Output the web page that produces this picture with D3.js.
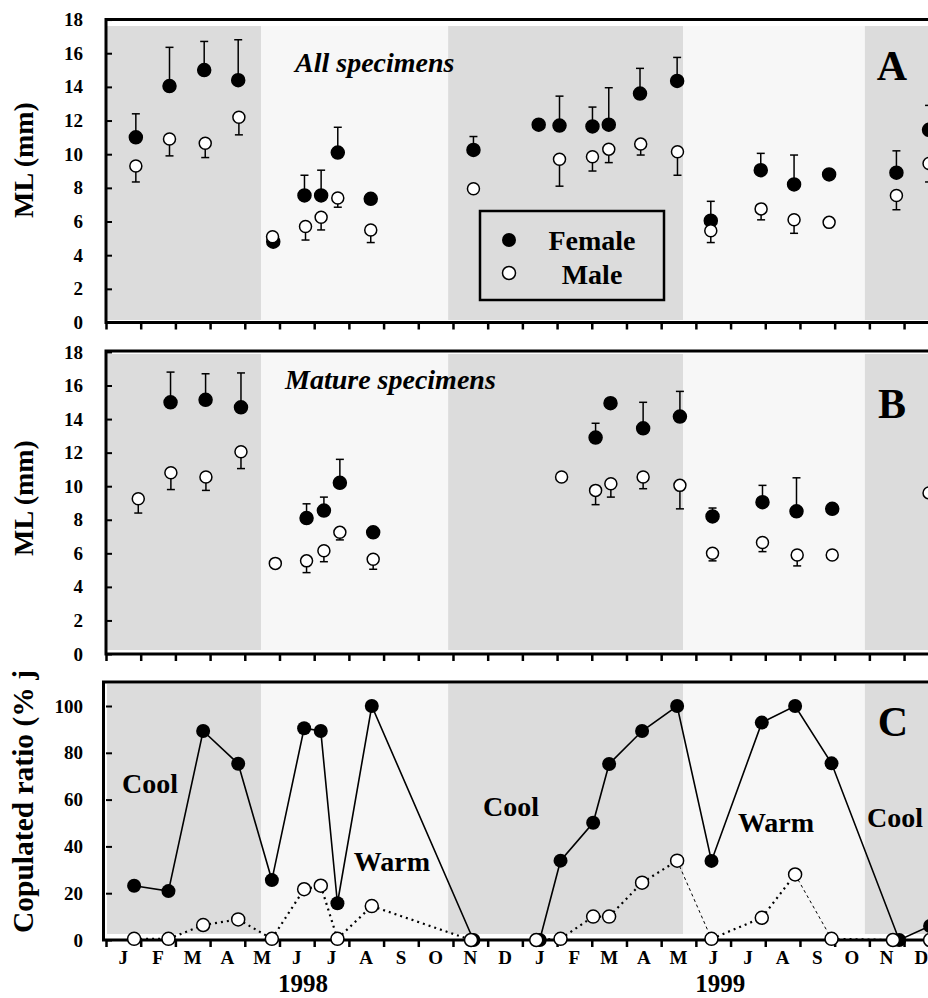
<!DOCTYPE html>
<html>
<head>
<title>ML and copulated ratio</title>
<script src="https://d3js.org/d3.v7.min.js"></script>
<style>
body { margin: 0; background: #fff; }
text { font-family: "Liberation Serif", "Times New Roman", Times, serif; font-weight: bold; fill: #000; }
</style>
</head>
<body>
<svg class="chart"></svg>
<script>
// months counted from Jan 1998 (0 = start of Jan 1998)
var monthLabels = ["J","F","M","A","M","J","J","A","S","O","N","D",
                   "J","F","M","A","M","J","J","A","S","O","N","D"];
var yearLabels = [["1998", 5.68], ["1999", 17.7]];
var seasons = [[0, 4.47, "cool"], [4.47, 9.86, "warm"], [9.86, 16.63, "cool"],
               [16.63, 21.87, "warm"], [21.87, 24, "cool"]];

// [month, mean ML, end of error bar]
var allFemale = [
    [0.86, 11.0, 12.4], [1.83, 14.05, 16.35], [2.83, 15.0, 16.7], [3.81, 14.4, 16.8],
    [4.82, 4.8, null], [5.72, 7.55, 8.75], [6.2, 7.55, 9.05], [6.68, 10.1, 11.6],
    [7.63, 7.35, null], [10.59, 10.25, 11.05], [12.47, 11.75, null], [13.07, 11.7, 13.45],
    [14.02, 11.65, 12.8], [14.49, 11.75, 13.95], [15.39, 13.6, 15.1], [16.46, 14.35, 15.75],
    [17.43, 6.05, 7.2], [18.87, 9.05, 10.05], [19.83, 8.2, 9.95], [20.84, 8.8, null],
    [22.78, 8.9, 10.2], [23.72, 11.45, 12.9]
];
var allMale = [
    [0.86, 9.3, 8.35], [1.83, 10.9, 9.9], [2.86, 10.65, 9.8], [3.83, 12.2, 11.15],
    [4.8, 5.1, null], [5.75, 5.7, 4.9], [6.2, 6.25, 5.5], [6.68, 7.4, 6.85],
    [7.63, 5.5, 4.75], [10.59, 7.95, null], [13.07, 9.7, 8.1], [14.02, 9.85, 9.0],
    [14.49, 10.3, 9.5], [15.41, 10.6, 9.95], [16.47, 10.15, 8.75], [17.43, 5.45, 4.75],
    [18.88, 6.75, 6.1], [19.83, 6.1, 5.3], [20.84, 5.95, null], [22.78, 7.55, 6.7],
    [23.72, 9.45, 8.35]
];
var matureFemale = [
    [1.86, 15.0, 16.8], [2.87, 15.15, 16.7], [3.89, 14.7, 16.75], [5.78, 8.1, 8.95],
    [6.28, 8.55, 9.35], [6.74, 10.2, 11.6], [7.7, 7.25, null], [14.11, 12.9, 13.75],
    [14.54, 14.95, null], [15.48, 13.45, 15.0], [16.54, 14.15, 15.65], [17.48, 8.2, 8.7],
    [18.92, 9.05, 10.05], [19.9, 8.5, 10.5], [20.93, 8.65, null]
];
var matureMale = [
    [0.93, 9.25, 8.4], [1.87, 10.8, 9.8], [2.88, 10.55, 9.75], [3.89, 12.05, 11.05],
    [4.88, 5.4, null], [5.78, 5.55, 4.85], [6.28, 6.15, 5.5], [6.74, 7.25, 6.8],
    [7.7, 5.65, 5.05], [13.13, 10.55, null], [14.11, 9.75, 8.9], [14.55, 10.15, 9.35],
    [15.48, 10.55, 9.85], [16.54, 10.05, 8.65], [17.48, 6.0, 5.55], [18.92, 6.65, 6.1],
    [19.92, 5.9, 5.25], [20.93, 5.9, null], [23.72, 9.6, null]
];
// [month, copulated %]
var copFemale = [
    [0.81, 23.2], [1.8, 20.9], [2.8, 89.3], [3.81, 75.3], [4.78, 25.6], [5.71, 90.5],
    [6.19, 89.3], [6.67, 15.7], [7.66, 100], [10.59, 0], [12.5, 0], [13.1, 33.9],
    [14.04, 50.1], [14.5, 75.2], [15.45, 89.3], [16.46, 100], [17.45, 33.8], [18.9, 92.9],
    [19.86, 100], [20.91, 75.5], [22.86, 0], [23.75, 6]
];
var copMale = [
    [0.81, 0.5], [1.8, 0.5], [2.8, 6.4], [3.81, 8.8], [4.78, 0.5], [5.71, 21.7],
    [6.19, 23.2], [6.67, 0.5], [7.66, 14.5], [10.52, 0], [12.4, 0], [13.1, 0.5],
    [14.04, 10], [14.5, 10], [15.45, 24.5], [16.46, 33.9], [17.45, 0.5], [18.9, 9.5],
    [19.86, 28], [20.91, 0.5], [22.68, 0], [23.75, 0]
];
// male segments drawn with the finer dash (index of the segment's first point)
var fineMaleSegments = [15, 18];
var seasonTextC = [["Cool", 1.27, 62.8], ["Warm", 8.24, 29.5], ["Cool", 11.67, 53],
                   ["Warm", 19.31, 46.2], ["Cool", 22.74, 48.3]];

var svgWidth = 928, svgHeight = 998;
var seasonColor = {cool: "#dcdcdc", warm: "#f7f7f7"};

var svg = d3.select(".chart").attr("width", svgWidth).attr("height", svgHeight);

var xScale = d3.scaleLinear().domain([0, 23.69]).range([106, 928]);

function makePanel(p) {
    var g = svg.append("g");
    var yScale = d3.scaleLinear().domain([0, p.max]).range([p.bottom, p.bottom - p.max * p.unit]);
    var x0 = xScale(0);

    g.selectAll(".bg").data(seasons).enter().append("rect")
        .attr("x", d => Math.max(xScale(d[0]), x0 + 1))
        .attr("width", d => xScale(d[1]) - Math.max(xScale(d[0]), x0 + 1))
        .attr("y", p.bgTop)
        .attr("height", p.bgBottom - p.bgTop)
        .attr("fill", d => seasonColor[d[2]]);

    var yAxis = d3.axisLeft(yScale).tickValues(d3.range(0, p.last + 0.01, p.step))
        .tickSize(-6).tickPadding(23).tickSizeOuter(0);
    g.append("g").attr("transform", "translate(" + x0 + ",0)").call(yAxis)
        .call(a => a.select(".domain").remove())
        .call(a => a.selectAll("line").attr("stroke-width", 2))
        .call(a => a.selectAll("text").attr("font-size", 19));

    var xAxis = d3.axisBottom(xScale).tickValues(d3.range(0, 24)).tickSize(7).tickFormat("");
    g.append("g").attr("transform", "translate(0," + p.bottom + ")").call(xAxis)
        .call(a => a.select(".domain").remove())
        .call(a => a.selectAll("line").attr("stroke-width", 2.5));

    g.append("path")
        .attr("d", "M" + svgWidth + "," + p.frameTop + "H" + (x0 - p.frameShift) + "V" + p.bottom + "H" + svgWidth)
        .attr("fill", "none").attr("stroke", "#000").attr("stroke-width", 3);

    return {g: g, y: yScale};
}

function drawSeries(panel, data, filled, r) {
    var eb = data.filter(d => d[2] != null);
    panel.g.selectAll(null).data(eb).enter().append("line")
        .attr("x1", d => xScale(d[0])).attr("x2", d => xScale(d[0]))
        .attr("y1", d => panel.y(d[1])).attr("y2", d => panel.y(d[2]))
        .attr("stroke", "#000").attr("stroke-width", 1.5);
    panel.g.selectAll(null).data(eb).enter().append("line")
        .attr("x1", d => xScale(d[0]) - 4).attr("x2", d => xScale(d[0]) + 4)
        .attr("y1", d => panel.y(d[2])).attr("y2", d => panel.y(d[2]))
        .attr("stroke", "#000").attr("stroke-width", 1.5);
    panel.g.selectAll(null).data(data).enter().append("circle")
        .attr("cx", d => xScale(d[0])).attr("cy", d => panel.y(d[1]))
        .attr("r", r)
        .attr("fill", filled ? "#000" : "#fff")
        .attr("stroke", "#000").attr("stroke-width", 1.5);
}

// Panel A
var pA = makePanel({max: 18, last: 18, step: 2, bottom: 322.5, unit: 16.83, frameTop: 19.5, bgTop: 26, bgBottom: 320, frameShift: 0});
pA.g.append("rect").attr("x", 480).attr("y", 211).attr("width", 184).attr("height", 89)
    .attr("fill", "#dcdcdc").attr("stroke", "#000").attr("stroke-width", 2.5);
pA.g.append("circle").attr("cx", 509).attr("cy", 240).attr("r", 7).attr("fill", "#000");
pA.g.append("circle").attr("cx", 509).attr("cy", 273).attr("r", 6.5).attr("fill", "#fff")
    .attr("stroke", "#000").attr("stroke-width", 1.5);
pA.g.append("text").attr("x", 592).attr("y", 250).attr("text-anchor", "middle").attr("font-size", 28).text("Female");
pA.g.append("text").attr("x", 592).attr("y", 284).attr("text-anchor", "middle").attr("font-size", 28).text("Male");
drawSeries(pA, allFemale, true, 6.5);
drawSeries(pA, allMale, false, 6);
pA.g.append("text").attr("x", 295).attr("y", 72).attr("font-size", 28).attr("font-style", "italic").text("All specimens");
pA.g.append("text").attr("x", 892).attr("y", 80).attr("text-anchor", "middle").attr("font-size", 42).text("A");
svg.append("text").attr("transform", "translate(33,160) rotate(-90)").attr("text-anchor", "middle")
    .attr("font-size", 28).text("ML (mm)");

// Panel B
var pB = makePanel({max: 18, last: 18, step: 2, bottom: 654, unit: 16.78, frameTop: 351, bgTop: 354, bgBottom: 650, frameShift: 0});
drawSeries(pB, matureFemale, true, 6.5);
drawSeries(pB, matureMale, false, 6);
pB.g.append("text").attr("x", 285).attr("y", 389).attr("font-size", 28).attr("font-style", "italic").text("Mature specimens");
pB.g.append("text").attr("x", 892).attr("y", 418).attr("text-anchor", "middle").attr("font-size", 42).text("B");
svg.append("text").attr("transform", "translate(33,498) rotate(-90)").attr("text-anchor", "middle")
    .attr("font-size", 28).text("ML (mm)");

// Panel C
var pC = makePanel({max: 110, last: 100, step: 20, bottom: 940, unit: 2.34, frameTop: 682, bgTop: 684, bgBottom: 934, frameShift: 2.5});
pC.g.selectAll(null).data(seasonTextC).enter().append("text")
    .attr("x", d => xScale(d[1])).attr("y", d => pC.y(d[2]))
    .attr("text-anchor", "middle").attr("font-size", 28).text(d => d[0]);
var line = d3.line().x(d => xScale(d[0])).y(d => pC.y(d[1]));
pC.g.append("path").datum(copFemale).attr("d", line)
    .attr("fill", "none").attr("stroke", "#000").attr("stroke-width", 1.6);
var maleSegs = d3.range(copMale.length - 1).map(i => ({i: i, pts: [copMale[i], copMale[i + 1]]}));
pC.g.selectAll(null).data(maleSegs).enter().append("path")
    .attr("d", d => line(d.pts))
    .attr("fill", "none").attr("stroke", "#000")
    .attr("stroke-width", d => fineMaleSegments.includes(d.i) ? 1 : 2.2)
    .attr("stroke-dasharray", d => fineMaleSegments.includes(d.i) ? "3,3" : "2,4");
pC.g.selectAll(null).data(copFemale).enter().append("circle")
    .attr("cx", d => xScale(d[0])).attr("cy", d => pC.y(d[1])).attr("r", 7).attr("fill", "#000");
pC.g.selectAll(null).data(copMale).enter().append("circle")
    .attr("cx", d => xScale(d[0])).attr("cy", d => pC.y(d[1])).attr("r", 6.5)
    .attr("fill", "#fff").attr("stroke", "#000").attr("stroke-width", 1.5);
pC.g.append("text").attr("x", 893).attr("y", 736).attr("text-anchor", "middle").attr("font-size", 42).text("C");
svg.append("text").attr("transform", "translate(33,933) rotate(-90)").attr("text-anchor", "start")
    .attr("font-size", 29.5).text("Copulated ratio (% j");

// month and year labels
svg.selectAll(".month").data(monthLabels).enter().append("text")
    .attr("class", "month")
    .attr("x", (d, i) => xScale(i + 0.5)).attr("y", 964)
    .attr("text-anchor", "middle").attr("font-size", 19).text(d => d);
svg.selectAll(".year").data(yearLabels).enter().append("text")
    .attr("x", d => xScale(d[1])).attr("y", 992)
    .attr("text-anchor", "middle").attr("font-size", 25).text(d => d[0]);
</script>
</body>
</html>
